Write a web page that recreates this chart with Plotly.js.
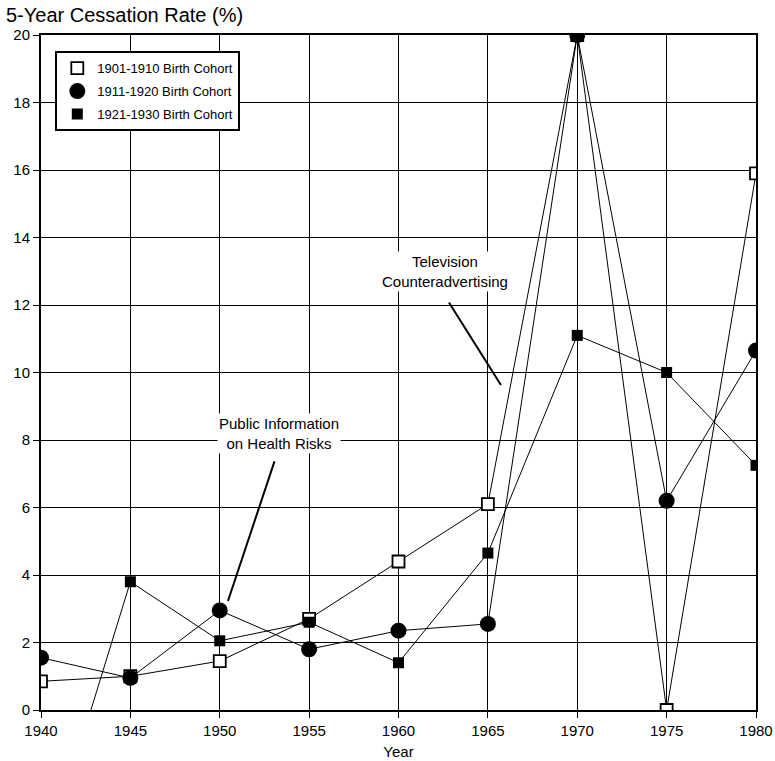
<!DOCTYPE html>
<html>
<head>
<meta charset="utf-8">
<script src="https://cdn.plot.ly/plotly-3.0.1.min.js"></script>
<style>html,body{margin:0;padding:0;background:#fff;}#chart{width:775px;height:761px;}</style>
</head>
<body>
<div id="chart"></div>
<script>
const years = [1940, 1945, 1950, 1955, 1960, 1965, 1970, 1975, 1980];
const cohort1901 = [0.85, 1.0, 1.45, 2.7, 4.4, 6.1, 20, 0, 15.9];
const cohort1911 = [1.55, 0.95, 2.95, 1.8, 2.35, 2.55, 20, 6.2, 10.65];
const cohort1921 = [-4.8, 3.8, 2.05, 2.6, 1.4, 4.65, 11.1, 10.0, 7.25];
const seriesNames = ['1901-1910 Birth Cohort', '1911-1920 Birth Cohort', '1921-1930 Birth Cohort'];
const yTicks = [0, 2, 4, 6, 8, 10, 12, 14, 16, 18, 20];
const xTicks = [1940, 1945, 1950, 1955, 1960, 1965, 1970, 1975, 1980];

const font = 'Liberation Sans, Arial, Helvetica, sans-serif';
const lineStyle = {color: '#000', width: 1};

const series = [cohort1901, cohort1911, cohort1921];
const markers = [
  {symbol: 'square', size: 12, color: '#fff', line: {color: '#000', width: 1.8}},
  {symbol: 'circle', size: 16, color: '#000', line: {color: '#000', width: 0}},
  {symbol: 'square', size: 11, color: '#000', line: {color: '#000', width: 0}}
];

const traces = [];
series.forEach((s, i) => {
  traces.push({x: years, y: s, mode: 'lines', line: lineStyle, showlegend: false, hoverinfo: 'skip'});
});
series.forEach((s, i) => {
  traces.push({x: years, y: s, mode: 'markers', name: seriesNames[i], marker: markers[i], legendgroup: 'g' + i});
});

const layout = {
  width: 775, height: 761,
  margin: {l: 41, r: 19, t: 35, b: 51},
  paper_bgcolor: '#fff', plot_bgcolor: '#fff',
  font: {family: font, color: '#000', size: 14},
  showlegend: true,
  legend: {
    x: 0.02, y: 0.976, xanchor: 'left', yanchor: 'top',
    bordercolor: '#000', borderwidth: 2, bgcolor: '#fff',
    font: {family: font, size: 13, color: '#000'},
    itemwidth: 30, tracegroupgap: 3
  },
  xaxis: {
    range: [1940, 1980], tickvals: xTicks, ticktext: xTicks.map(String),
    showgrid: true, gridcolor: '#000', gridwidth: 1,
    showline: true, linecolor: '#000', linewidth: 2, mirror: true,
    ticks: 'outside', ticklen: 6, tickcolor: '#000', tickwidth: 1,
    zeroline: false,
    tickfont: {family: font, size: 15, color: '#000'},
    title: {text: 'Year', font: {family: font, size: 15, color: '#000'}, standoff: 8}
  },
  yaxis: {
    range: [0, 20], tickvals: yTicks, ticktext: yTicks.map(String),
    showgrid: true, gridcolor: '#000', gridwidth: 1,
    showline: true, linecolor: '#000', linewidth: 2, mirror: true,
    ticks: 'outside', ticklen: 6, tickcolor: '#000', tickwidth: 1,
    zeroline: false,
    tickfont: {family: font, size: 15, color: '#000'}
  },
  annotations: [
    {xref: 'paper', yref: 'paper', x: -0.052, y: 1.0296, xanchor: 'left', yanchor: 'middle',
     text: '5-Year Cessation Rate (%)', showarrow: false,
     font: {family: font, size: 20, color: '#000'}},
    {x: 1953.3, y: 8.2, text: 'Public Information<br>on Health Risks', showarrow: false,
     bgcolor: '#fff', font: {family: font, size: 15, color: '#000'}},
    {x: 1950.46, y: 3.23, ax: 1953.09, ay: 7.41, axref: 'x', ayref: 'y', text: '',
     showarrow: true, arrowhead: 0, arrowwidth: 2, arrowcolor: '#000'},
    {x: 1962.6, y: 12.98, text: 'Television<br>Counteradvertising', showarrow: false,
     bgcolor: '#fff', font: {family: font, size: 15, color: '#000'}},
    {x: 1965.73, y: 9.63, ax: 1962.77, ay: 12.12, axref: 'x', ayref: 'y', text: '',
     showarrow: true, arrowhead: 0, arrowwidth: 2, arrowcolor: '#000'}
  ]
};

Plotly.newPlot('chart', traces, layout, {displayModeBar: false, staticPlot: true});
</script>
</body>
</html>
